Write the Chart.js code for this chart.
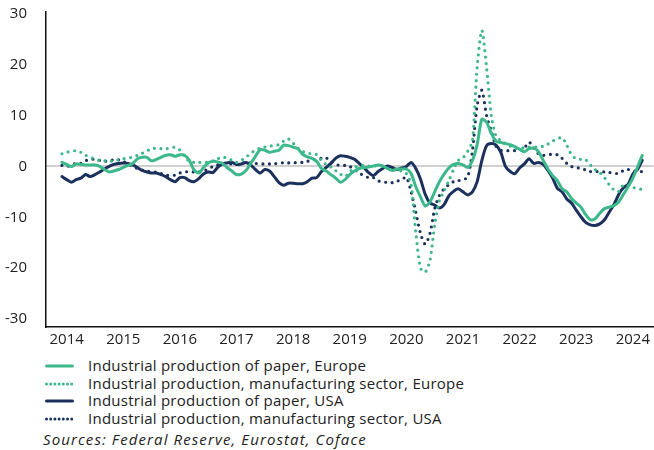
<!doctype html>
<html>

<head>
	<title>Industrial production</title>
	<script src="https://cdn.jsdelivr.net/npm/chart.js@4"></script>
	<style>
		body {
			margin: 0;
			background: #fff;
			font-family: 'Open Sans', sans-serif;
			color: #222;
		}
		#wrap {
			position: relative;
			width: 654px;
			height: 450px;
		}
		#legend {
			position: absolute;
			left: 45px;
			top: 357px;
			font-size: 15px;
			letter-spacing: 0.25px;
			line-height: 17.7px;
		}
		.item {
			display: flex;
			align-items: center;
			white-space: nowrap;
		}
		.item svg {
			width: 29px;
			height: 6px;
			margin-right: 14px;
		}
		#source {
			position: absolute;
			left: 43px;
			top: 430px;
			font-size: 15px;
			font-style: italic;
			letter-spacing: 1.1px;
			line-height: 18px;
			white-space: nowrap;
		}
	</style>
</head>

<body>
	<div id="wrap">
		<canvas id="chart" width="654" height="350"></canvas>
		<div id="legend"></div>
		<div id="source">Sources: Federal Reserve, Eurostat, Coface</div>
	</div>
	<script>
		// monthly data, Dec 2013 - Mar 2024 (% y/y)
		const firstYear = 2013;
		const firstMonth = 12;
		const yearTicks = [2014, 2015, 2016, 2017, 2018, 2019, 2020, 2021, 2022, 2023, 2024];
		const valueTicks = [-30, -20, -10, 0, 10, 20, 30];

		const paperEurope = [
			0.8, 0.4, 0.0, 0.5, 0.4, 0.3, 0.3, 0.3, 0.0, -0.6, -1.1,
			-0.9, -0.6, -0.2, 0.2, 0.6, 1.5, 1.8, 1.8, 1.1, 1.4,
			1.8, 2.2, 2.3, 2.0, 2.3, 2.2, 1.2, -0.7, -1.3, -0.2,
			0.7, 1.0, 0.9, 0.6, -0.2, -0.9, -1.6, -1.5, -0.8, 0.6,
			2.0, 3.3, 3.2, 2.8, 3.0, 3.2, 4.2, 4.1, 3.8, 3.5,
			2.4, 1.9, 1.6, 1.0, -0.4, -0.9, -1.6, -2.3, -3.1, -2.6,
			-1.6, -0.9, -0.4, -0.2, -0.1, 0.1, 0.3, 0.1, -0.4, -0.8,
			-0.5, -0.5, -0.5, -1.4, -4.0, -6.0, -7.8, -7.0, -5.0, -3.0,
			-1.5, -0.3, 0.4, 0.6, 0.3, -0.2, 1.2, 4.3, 9.3, 8.7,
			6.5, 5.0, 4.7, 4.5, 4.3, 3.9, 3.4, 2.9, 3.5, 3.6,
			2.9, 1.2, -0.5, -1.8, -2.8, -4.4, -5.0, -6.3, -7.2, -8.0,
			-9.5, -10.5, -10.3, -9.2, -8.3, -8.0, -7.7, -7.0, -5.5, -4.0,
			-2.3, -0.1, 2.2
		];
		const manufEurope = [
			2.5, 2.8, 3.0, 3.1, 2.8, 2.2, 1.8, 1.4, 1.2, 1.1, 1.0,
			1.1, 1.3, 1.5, 1.7, 1.8, 2.2, 2.6, 3.0, 3.6, 3.5,
			3.5, 3.5, 3.6, 3.8, 3.2, 2.0, 1.0, 0.8, 0.8, 0.8,
			0.8, 1.1, 1.5, 1.9, 1.6, 1.2, 0.8, 1.2, 1.8, 2.6,
			3.2, 3.6, 3.8, 4.0, 4.1, 4.3, 5.0, 5.4, 4.6, 3.6,
			3.0, 2.5, 2.6, 2.3, 1.2, 0.4, -0.1, -0.8, -1.5, -2.0,
			-1.1, -0.2, 0.2, 0.2, 0.1, 0.0, 0.2, 0.0, -0.4, -0.7,
			-0.8, -0.9, -1.4, -3.5, -13.0, -20.0, -20.8, -18.5, -11.5, -6.7,
			-4.8, -2.8, -0.6, 1.2, 1.7, 3.0, 5.0, 19.5, 26.8, 19.5,
			10.0, 6.0, 5.1, 4.5, 4.0, 3.6, 3.5, 3.7, 3.8, 3.8,
			3.8, 4.0, 4.4, 5.0, 5.4, 5.7, 4.2, 2.3, 1.5, 1.4,
			1.3, 0.3, -0.6, -1.2, -2.2, -3.6, -4.6, -4.9, -3.6, -3.8,
			-4.1, -4.4, -4.5
		];
		const paperUsa = [
			-2.0, -2.6, -3.1, -2.6, -2.3, -1.6, -2.0, -1.6, -1.1, -0.5, 0.0,
			0.4, 0.6, 0.7, 0.6, 0.3, -0.2, -0.8, -1.1, -1.3, -1.3,
			-1.6, -2.0, -2.6, -3.0, -2.2, -2.2, -2.8, -3.0, -2.4, -1.5,
			-1.1, -1.2, -0.2, 0.5, 0.7, 0.8, 0.4, 0.5, 0.8, 0.3,
			-0.6, -1.3, -0.6, -0.9, -2.0, -3.2, -3.7, -3.3, -3.3, -3.4,
			-3.4, -3.0, -2.3, -2.2, -1.0, -0.2, 0.6, 1.6, 2.1, 2.0,
			1.8, 1.4, 0.6, -0.2, -1.2, -1.8, -1.0, -0.4, 0.1, -0.2,
			-0.6, -0.3, 0.0, 0.8, -0.4, -2.5, -5.5, -7.2, -7.6, -8.2,
			-7.5, -5.8, -4.9, -4.4, -5.0, -5.6, -5.0, -3.0, 1.2, 4.1,
			4.5, 4.2, 2.8, 0.0, -1.0, -1.4, -0.3, 0.5, 1.5, 0.6,
			0.8, 0.4, -0.8, -2.3, -4.3, -5.0, -6.4, -7.2, -8.6, -9.9,
			-11.0, -11.5, -11.6, -11.3, -10.5, -9.0, -7.5, -5.5, -4.2, -3.5,
			-1.5, -0.6, 1.2
		];
		const manufUsa = [
			0.2, 0.0, 0.3, 0.6, 0.6, 1.1, 1.4, 1.4, 1.2, 1.0, 1.2,
			1.3, 1.3, 1.0, 0.5, 0.0, -0.4, -0.7, -0.9, -1.1, -1.1,
			-1.4, -1.7, -1.8, -1.7, -1.3, -1.1, -1.0, -1.1, -1.1, -0.9,
			-0.5, 0.0, 0.3, 0.5, 0.5, 0.5, 0.5, 0.6, 0.8, 0.7,
			0.6, 0.5, 0.5, 0.5, 0.5, 0.7, 0.7, 0.7, 0.7, 0.8,
			0.8, 1.0, 1.2, 1.4, 1.6, 1.7, 0.9, 0.4, 0.2, 0.2,
			0.0, -0.6, -1.3, -1.8, -2.2, -2.2, -2.8, -3.1, -3.1, -3.2,
			-2.9, -2.6, -2.1, -5.0, -9.0, -13.2, -15.3, -13.2, -8.3, -5.7,
			-4.4, -3.6, -3.0, -2.8, -2.6, -2.1, 3.0, 12.0, 15.0, 10.0,
			7.0, 4.0, 3.2, 3.1, 3.1, 3.1, 3.2, 3.6, 4.8, 3.6,
			2.5, 2.2, 2.3, 2.4, 2.3, 1.6, 0.6, 0.0, -0.3, -0.3,
			-0.7, -1.0, -1.0, -1.0, -1.1, -1.2, -1.3, -1.4, -0.8, -0.6,
			-0.8, -1.0, -1.0
		];

		const GREEN = '#3cb88b';
		const NAVY = '#1c305e';
		const FONT = "'Open Sans', sans-serif";

		const toPoints = (arr) => arr.map((v, i) => ({
			x: firstYear + (firstMonth - 1 + i) / 12,
			y: v
		}));

		const series = [
			{ label: 'Industrial production of paper, Europe', data: paperEurope, color: GREEN, dotted: false },
			{ label: 'Industrial production, manufacturing sector, Europe', data: manufEurope, color: GREEN, dotted: true },
			{ label: 'Industrial production of paper, USA', data: paperUsa, color: NAVY, dotted: false },
			{ label: 'Industrial production, manufacturing sector, USA', data: manufUsa, color: NAVY, dotted: true }
		];

		const config = {
			type: 'line',
			data: {
				datasets: series.map(s => ({
					label: s.label,
					data: toPoints(s.data),
					borderColor: s.color,
					borderWidth: s.dotted ? 3.2 : 3,
					borderDash: s.dotted ? [0, 6.5] : [],
					borderCapStyle: 'round',
					borderJoinStyle: 'round',
					pointRadius: 0,
					tension: 0.25,
					fill: false
				}))
			},
			options: {
				responsive: false,
				animation: false,
				devicePixelRatio: 1,
				layout: {
					padding: { top: 12, right: 0, bottom: 0, left: 0 }
				},
				plugins: {
					legend: { display: false },
					tooltip: { enabled: false }
				},
				scales: {
					x: {
						type: 'linear',
						min: 2013.635,
						max: 2024.365,
						afterBuildTicks: (scale) => {
							scale.ticks = yearTicks.map(v => ({ value: v }));
						},
						afterFit: (scale) => {
							scale.height = 23;
						},
						ticks: {
							callback: (v) => String(v),
							autoSkip: false,
							maxRotation: 0,
							padding: 4,
							color: '#222',
							font: { family: FONT, size: 15 }
						},
						grid: { display: false, drawTicks: false },
						border: { display: true, color: '#111', width: 1.5 }
					},
					y: {
						min: -31.6,
						max: 30.4,
						afterBuildTicks: (scale) => {
							scale.ticks = valueTicks.map(v => ({ value: v }));
						},
						afterFit: (scale) => {
							scale.width = 46;
							// keep the label padding from pushing the plot area in
							scale.paddingTop = 8;
							scale.paddingBottom = 8;
						},
						ticks: {
							padding: 19,
							color: '#222',
							font: { family: FONT, size: 15 }
						},
						grid: {
							drawTicks: false,
							color: (ctx) => ctx.tick && ctx.tick.value === 0 ? '#d0d0d0' : 'rgba(0,0,0,0)',
							lineWidth: 2
						},
						border: { display: true, color: '#111', width: 1.5 }
					}
				}
			}
		};

		window.onload = function() {
			const ctx = document.getElementById('chart');
			window.myChart = new Chart(ctx, config);

			// legend built from the same series list
			const legend = document.getElementById('legend');
			series.forEach((s) => {
				const row = document.createElement('div');
				row.className = 'item';
				const dash = s.dotted ? 'stroke-dasharray="0 4.2"' : '';
				row.innerHTML = '<svg viewBox="0 0 29 6"><line x1="1.5" y1="3" x2="27.5" y2="3" stroke="' + s.color +
					'" stroke-width="3" stroke-linecap="round" ' + dash + '/></svg><span>' + s.label + '</span>';
				legend.appendChild(row);
			});
		};
	</script>
</body>

</html>
